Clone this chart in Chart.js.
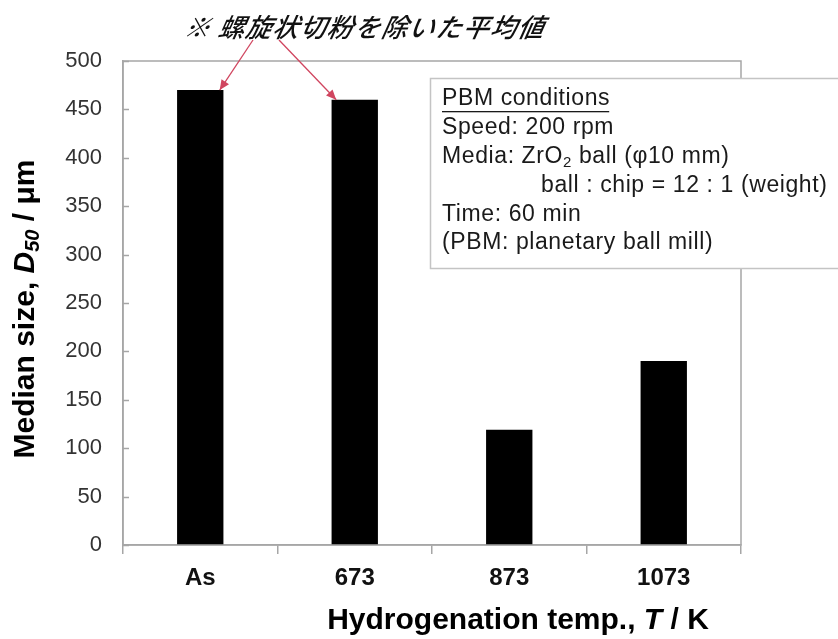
<!DOCTYPE html>
<html>
<head>
<meta charset="utf-8">
<script src="https://cdn.jsdelivr.net/npm/chart.js@4/dist/chart.umd.min.js"></script>
<style>
  html, body { margin: 0; padding: 0; background: #fff; }
  #wrap { width: 838px; height: 639px; }
</style>
</head>
<body>
<div id="wrap"><canvas id="c" width="838" height="639"></canvas></div>
<script>
// Median particle size after planetary ball milling, by hydrogenation temperature
const categories = ['As', '673', '873', '1073'];
const medianSize = [470, 460, 119, 190];
const yTicks = [0, 50, 100, 150, 200, 250, 300, 350, 400, 450, 500];
const noteText = '※ 螺旋状切粉を除いた平均値';
const conditionLines = [
  'PBM conditions',
  'Speed: 200 rpm',
  'Media: ZrO|2| ball (φ10 mm)',
  'ball : chip = 12 : 1 (weight)',
  'Time: 60 min',
  '(PBM: planetary ball mill)'
];

const FONT = '"Liberation Sans", Arial, sans-serif';
const AXIS_GRAY = '#a6a6a6';

// Draws a sequence of styled text runs; returns the total width
function drawRuns(ctx, runs, x, y) {
  let cx = x;
  for (const r of runs) {
    ctx.font = r.font;
    ctx.fillText(r.text, cx, y + (r.dy || 0));
    cx += ctx.measureText(r.text).width;
  }
  return cx - x;
}
function runsWidth(ctx, runs) {
  let w = 0;
  for (const r of runs) { ctx.font = r.font; w += ctx.measureText(r.text).width; }
  return w;
}

const decorations = {
  id: 'decorations',
  afterDatasetsDraw(chart) {
    const ctx = chart.ctx;
    const a = chart.chartArea;
    const ys = chart.scales.y;
    ctx.save();

    // plot frame
    ctx.strokeStyle = AXIS_GRAY;
    ctx.lineWidth = 1.5;
    ctx.strokeRect(a.left, a.top, a.right - a.left, a.bottom - a.top);

    // inward y ticks
    ctx.beginPath();
    for (const v of yTicks) {
      const py = Math.round(ys.getPixelForValue(v)) + 0.5;
      ctx.moveTo(a.left, py);
      ctx.lineTo(a.left + 6, py);
    }
    ctx.stroke();

    // y-axis title with italic subscripted symbol
    const yRuns = [
      { text: 'Median size, ', font: 'bold 30px ' + FONT },
      { text: 'D', font: 'italic bold 30px ' + FONT },
      { text: '50', font: 'italic bold 20px ' + FONT, dy: 7 },
      { text: ' / μm', font: 'bold 30px ' + FONT }
    ];
    ctx.fillStyle = '#000';
    ctx.textBaseline = 'middle';
    ctx.textAlign = 'left';
    ctx.save();
    ctx.translate(26, 309);
    ctx.rotate(-Math.PI / 2);
    const yw = runsWidth(ctx, yRuns);
    drawRuns(ctx, yRuns, -yw / 2, 0);
    ctx.restore();

    // x-axis title
    const xRuns = [
      { text: 'Hydrogenation temp., ', font: 'bold 30px ' + FONT },
      { text: 'T', font: 'italic bold 30px ' + FONT },
      { text: ' / K', font: 'bold 30px ' + FONT }
    ];
    const xw = runsWidth(ctx, xRuns);
    drawRuns(ctx, xRuns, 518 - xw / 2, 621);

    // conditions box
    const bx = 430, by = 78, bw = 420, bh = 190;
    ctx.fillStyle = '#fff';
    ctx.fillRect(bx, by, bw, bh);
    ctx.strokeStyle = '#c4c4c4';
    ctx.lineWidth = 1.5;
    ctx.strokeRect(bx + 0.5, by + 0.5, bw, bh);
    ctx.fillStyle = '#1a1a1a';
    ctx.textBaseline = 'middle';
    ctx.letterSpacing = '0.6px';
    const lx = 442, ly0 = 99, lh = 28.8;
    conditionLines.forEach((line, i) => {
      const y = ly0 + i * lh;
      const x = i === 3 ? 541 : lx;
      const parts = line.split('|');
      const runs = parts.map((p, k) => k === 1
        ? { text: p, font: '15px ' + FONT, dy: 6 }
        : { text: p, font: '23px ' + FONT });
      const w = drawRuns(ctx, runs, x, y);
      if (i === 0) {
        ctx.fillRect(x, y + 12, w - 1, 1.3);
      }
    });

    // note above the plot with arrows to the two annotated bars
    ctx.letterSpacing = '1.2px';
    ctx.font = 'italic 500 26px "Noto Sans CJK JP", sans-serif';
    ctx.textAlign = 'center';
    ctx.fillStyle = '#111';
    ctx.save();
    ctx.translate(365, 27);
    ctx.transform(1, 0, -0.2, 1, 0, 0);
    ctx.fillText(noteText, 0, 0);
    ctx.restore();
    ctx.letterSpacing = '0px';

    const bars = chart.getDatasetMeta(0).data;
    const arrow = (x0, y0, x1, y1) => {
      ctx.strokeStyle = '#d0455f';
      ctx.fillStyle = '#d0455f';
      ctx.lineWidth = 1.3;
      ctx.beginPath();
      ctx.moveTo(x0, y0);
      ctx.lineTo(x1, y1);
      ctx.stroke();
      const ang = Math.atan2(y1 - y0, x1 - x0);
      const L = 10, W = 4.5;
      ctx.beginPath();
      ctx.moveTo(x1, y1);
      ctx.lineTo(x1 - L * Math.cos(ang) + W * Math.sin(ang), y1 - L * Math.sin(ang) - W * Math.cos(ang));
      ctx.lineTo(x1 - L * Math.cos(ang) - W * Math.sin(ang), y1 - L * Math.sin(ang) + W * Math.cos(ang));
      ctx.closePath();
      ctx.fill();
    };
    arrow(253, 40, bars[0].x + bars[0].width * 0.42, bars[0].y);
    arrow(279, 40, bars[1].x - bars[1].width * 0.4, bars[1].y);

    ctx.restore();
  }
};

new Chart(document.getElementById('c'), {
  type: 'bar',
  data: {
    labels: categories,
    datasets: [{
      data: medianSize,
      backgroundColor: '#000',
      borderWidth: 0,
      categoryPercentage: 1,
      barPercentage: 0.3
    }]
  },
  options: {
    responsive: false,
    animation: false,
    devicePixelRatio: 1,
    layout: { padding: { left: 0, top: 61, right: 97, bottom: 0 } },
    plugins: { legend: { display: false }, tooltip: { enabled: false } },
    scales: {
      x: {
        offset: true,
        grid: {
          offset: true,
          drawOnChartArea: false,
          color: AXIS_GRAY,
          lineWidth: 1.5,
          tickLength: 9
        },
        border: { color: AXIS_GRAY, width: 1.5 },
        ticks: {
          color: '#111',
          font: { family: FONT, size: 24, weight: 'bold' },
          padding: 10
        },
        afterFit(s) { s.height = 94; }
      },
      y: {
        min: 0,
        max: 500,
        afterBuildTicks(s) { s.ticks = yTicks.map(v => ({ value: v })); },
        grid: { display: false },
        border: { color: AXIS_GRAY, width: 1.5 },
        ticks: {
          color: '#333',
          font: { family: FONT, size: 22 },
          padding: 13
        },
        afterFit(s) { s.width = 123; }
      }
    }
  },
  plugins: [decorations]
});
</script>
</body>
</html>
